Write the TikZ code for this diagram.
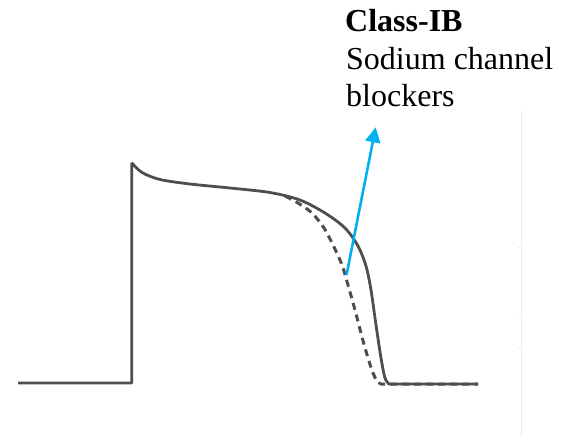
\documentclass[tikz,border=0pt]{standalone}
\usepackage{fontspec}
\setmainfont{Liberation Serif}
\usetikzlibrary{arrows.meta}
\usetikzlibrary{positioning}
\definecolor{trace}{RGB}{78,78,78}
\definecolor{pointerblue}{RGB}{0,176,240}

\begin{document}
\begin{tikzpicture}[x=1pt,y=-1pt,
  label text/.style={inner sep=0pt,anchor=base west,font=\fontsize{32}{37.5}\selectfont},
  ap solid/.style={draw=trace,line width=2.8pt,line join=round},
  ap dashed/.style={draw=trace,line width=3pt,dash pattern=on 7pt off 5pt}]
\useasboundingbox (0,0) rectangle (566,437);
% faint scale at the right border
\draw[black!7,line width=1.5pt] (521.7,110) -- (521.7,437);
\draw[black!7,line width=1pt] (518,247) -- (521.7,247);
\draw[black!7,line width=1pt] (518,317) -- (521.7,317);
\draw[black!7,line width=1pt] (518,348) -- (521.7,348);

% action potential, control
\draw[ap solid] (18,383) -- (131.7,383) -- (131.7,162.7)
  plot[smooth,tension=0.5] coordinates {(131.7,162.7) (142,172.5) (160,179.5) (190,184) (230,188) (270,192.5) (300,200) (325,213) (345,228) (358,246) (366,266) (371,290) (376,325) (381,358) (385,378) (389,384)}
  -- (478,384);
% action potential with class IB drug
\draw[ap dashed] plot[smooth,tension=0.5] coordinates {(285,196) (298,203) (312,213) (324,228) (334,247) (342,265) (348,285) (355,310) (362,337) (368,358) (373,373) (377,381) (381,384)}
  -- (478,384);

% labels
\node[label text] (cls) at (345,31) {\bfseries Class-IB};
\node[label text] (sod) at (346,69) {Sodium channel};
\node[label text] (blk) at (346,106.5) {blockers};

\coordinate (drug) at (346.5,275);
\coordinate (tip) at (375.7,127.3);
\draw[pointerblue,line width=2.6pt,-{Triangle[length=15pt,width=15pt]}] (drug) -- (tip);
\end{tikzpicture}
\end{document}
